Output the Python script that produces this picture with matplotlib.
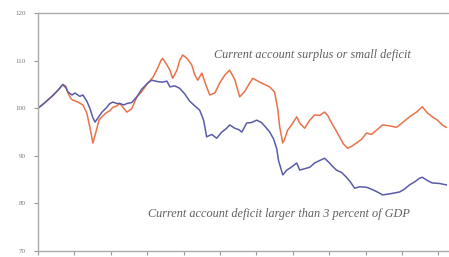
import matplotlib
matplotlib.use("Agg")
import matplotlib.pyplot as plt

# months since start
surplus_x = [0, 2.3, 4.6, 6.6, 8.2, 9.2, 9.9, 10.9, 11.5, 13.2, 14.8, 16.1, 17.1, 18.1, 19.1, 20.1,
             21.1, 22.4, 23.7, 24.7, 26.0, 27.0, 28.3, 29.3, 30.9, 32.6, 34.2, 36.2, 37.9, 39.5,
             40.5, 41.1, 42.5, 43.5, 44.4, 45.8, 46.7, 47.7, 49.1, 50.7, 51.7, 52.7, 54.0, 55.3,
             56.6, 58.3, 59.9, 61.6, 63.2, 64.9, 66.5, 68.1, 69.5, 70.8, 73.1, 74.7, 76.4, 78.0,
             79.0, 79.7, 80.7, 81.3, 82.3, 83.6, 85.3, 86.3, 87.9, 89.6, 91.2, 92.8, 94.5, 95.5,
             96.8, 98.1, 99.4, 100.7, 102.1, 103.4, 105.0, 106.7, 108.3, 109.9, 111.6, 113.6,
             115.9, 118.2, 120.2, 122.5, 124.8, 126.7, 128.4, 130.0, 131.7, 133.3, 134.6]
surplus_y = [100, 101.2, 102.5, 103.8, 105, 104.6, 103.2, 102, 101.7, 101.3, 100.7, 99, 96, 92.7, 95,
             97.5, 98.2, 99, 99.5, 100.2, 100.5, 101, 100, 99.2, 99.9, 102.4, 103.5, 105.3, 106.5,
             108.5, 110, 110.5, 109.1, 108, 106.3, 108, 110, 111.2, 110.5, 109.1, 107, 105.9, 107.4,
             105, 102.8, 103.2, 105.3, 107, 108, 106, 102.4, 103.5, 105, 106.3, 105.5, 105, 104.5,
             103.4, 100, 96, 92.7, 93.5, 95.4, 96.5, 98.2, 96.9, 95.8, 97.5, 98.6, 98.5, 99.2, 98.5,
             96.9, 95.5, 94, 92.5, 91.6, 92, 92.7, 93.5, 94.8, 94.5, 95.4, 96.5, 96.3, 96, 97, 98.2,
             99.2, 100.3, 99, 98.2, 97.5, 96.5, 96]

deficit_x = [0, 2.3, 4.6, 6.6, 8.2, 9.2, 9.9, 11.2, 12.2, 13.8, 14.8, 16.1, 17.1, 18.1, 18.8, 19.8,
             21.1, 22.4, 23.7, 24.7, 26.0, 27.0, 28.3, 29.3, 30.9, 32.6, 34.2, 36.2, 37.5, 39.5,
             41.1, 42.5, 43.5, 45.1, 46.7, 48.4, 50.0, 51.7, 53.3, 54.6, 55.6, 57.3, 58.9, 60.6,
             62.2, 63.2, 64.9, 66.2, 67.2, 68.8, 70.4, 72.1, 73.7, 75.1, 76.4, 77.7, 78.7, 79.3,
             80.0, 80.7, 82.0, 83.0, 84.3, 85.3, 86.3, 87.9, 89.6, 91.2, 92.8, 94.5, 96.1, 97.1,
             98.4, 100.1, 101.7, 103.0, 104.4, 106.0, 108.3, 109.9, 111.6, 113.6, 115.9, 117.5,
             119.2, 120.8, 122.5, 124.1, 125.8, 126.7, 128.4, 130.0, 132.3, 134.6]
deficit_y = [100, 101.2, 102.5, 103.8, 105, 104.3, 103.4, 102.8, 103.2, 102.5, 102.8, 101.5, 100, 98,
             97.1, 98, 99.2, 100, 101, 101.3, 101, 101, 100.7, 101, 101.2, 102.4, 104, 105.3, 105.9,
             105.6, 105.5, 105.7, 104.5, 104.7, 104.2, 103, 101.5, 100.5, 99.6, 97.5, 94, 94.5, 93.7,
             95, 95.8, 96.5, 95.8, 95.5, 95, 96.9, 97, 97.5, 97, 96, 95, 93.5, 91.5, 89, 87.5, 86,
             87, 87.4, 88, 88.5, 87, 87.3, 87.6, 88.5, 89, 89.5, 88.5, 87.8, 87, 86.5, 85.5, 84.5,
             83.2, 83.5, 83.4, 83, 82.5, 81.8, 82, 82.2, 82.4, 83, 83.9, 84.5, 85.3, 85.5, 84.8,
             84.3, 84.2, 83.9]

y_ticks = [70, 80, 90, 100, 110, 120]
x_ticks = list(range(0, 133, 12))
label_surplus = "Current account surplus or small deficit"
label_deficit = "Current account deficit larger than 3 percent of GDP"

fig = plt.figure(figsize=(4.49, 2.57), dpi=100)
ax = fig.add_axes([0.0846, 0.0233, 0.9154, 0.9257])

ax.plot(surplus_x, surplus_y, color="#E8734A", lw=1.1)
ax.plot(deficit_x, deficit_y, color="#5A5CA8", lw=1.1)

ax.set_xlim(0, 135.5)
ax.set_ylim(70, 120)
ax.set_yticks(y_ticks)
ax.set_xticks(x_ticks)
ax.set_xticklabels([])
ax.set_yticklabels([str(v) for v in y_ticks], fontsize=5, family="Liberation Serif", color="#777777")
ax.tick_params(axis="both", direction="out", length=3, width=0.8, color="#999999", pad=6)

for s in ["left", "bottom", "top"]:
    ax.spines[s].set_color("#aaaaaa")
    ax.spines[s].set_linewidth(1.0)
ax.spines["right"].set_visible(False)

ax.text(0.667, 0.824, label_surplus, transform=ax.transAxes, ha="center", va="center",
        fontsize=8.8, family="Liberation Serif", style="italic", color="#606060")
ax.text(0.586, 0.155, label_deficit, transform=ax.transAxes, ha="center", va="center",
        fontsize=8.8, family="Liberation Serif", style="italic", color="#606060")

fig.savefig("out.png", dpi=100)
